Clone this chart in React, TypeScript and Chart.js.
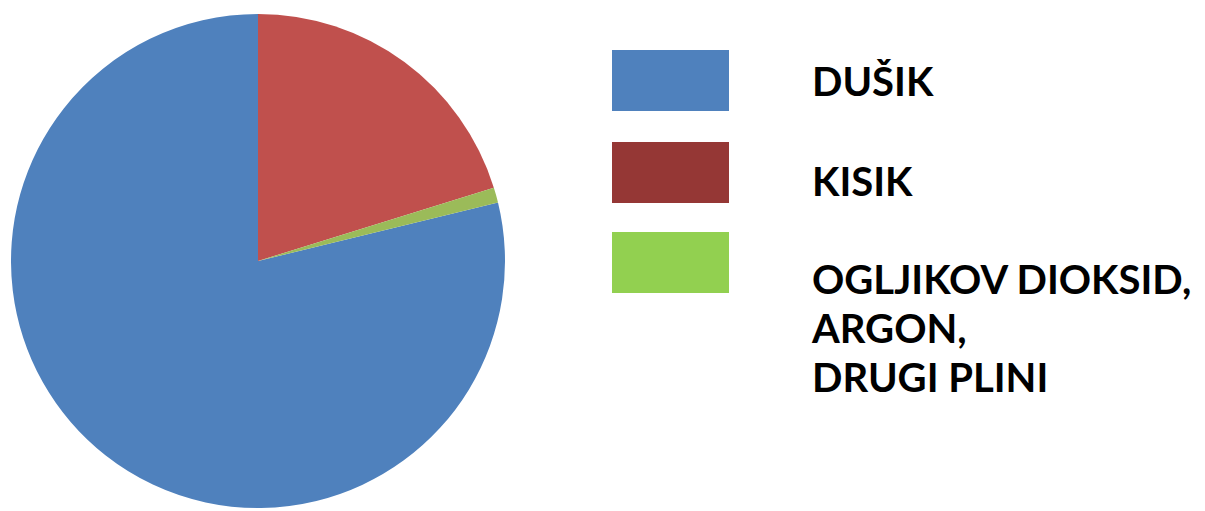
import React, { useEffect, useRef } from "react";
import { Chart, registerables } from "chart.js";

Chart.register(...registerables);

const categories = ["DUŠIK", "KISIK", "OGLJIKOV DIOKSID, ARGON, DRUGI PLINI"];
const legendLines = [["DUŠIK"], ["KISIK"], ["OGLJIKOV DIOKSID,", "ARGON,", "DRUGI PLINI"]];
const values = [78.8, 20.2, 1.0];
const sliceColors = ["#4F81BD", "#C0504D", "#9BBB59"];
const legendColors = ["#4F81BD", "#953735", "#92D050"];

export default function App() {
  const ref = useRef<HTMLCanvasElement>(null);
  useEffect(() => {
    document.body.style.margin = "0";
    const total = values.reduce((a, b) => a + b, 0);
    const rotation = 360 - (values[0] / total) * 360;
    const chart = new Chart(ref.current!, {
      type: "pie",
      data: {
        labels: categories,
        datasets: [{ data: values, backgroundColor: sliceColors, borderWidth: 0 }],
      },
      options: {
        responsive: false,
        animation: false,
        rotation,
        layout: { padding: 0 },
        plugins: { legend: { display: false }, tooltip: { enabled: false } },
      },
    });
    return () => chart.destroy();
  }, []);

  const boxTops = [50, 142, 232];
  const baselines = [[96], [196], [294, 343, 392]];
  const fs = 40;
  return (
    <div style={{ position: "relative", width: 1205, height: 511, background: "#fff", overflow: "hidden" }}>
      <canvas ref={ref} width={494} height={494} style={{ position: "absolute", left: 11, top: 14, width: 494, height: 494 }} />
      {legendColors.map((c, i) => (
        <div key={"b" + i} style={{ position: "absolute", left: 612, top: boxTops[i], width: 117, height: 61, background: c }} />
      ))}
      {legendLines.map((lines, i) =>
        lines.map((t, j) => (
          <div
            key={"t" + i + "-" + j}
            style={{
              position: "absolute",
              left: 812,
              top: baselines[i][j] - fs * 0.87,
              fontFamily: "Lato, sans-serif",
              fontWeight: 700,
              fontSize: fs,
              lineHeight: fs + "px",
              color: "#000",
              whiteSpace: "pre",
            }}
          >
            {t}
          </div>
        ))
      )}
    </div>
  );
}
